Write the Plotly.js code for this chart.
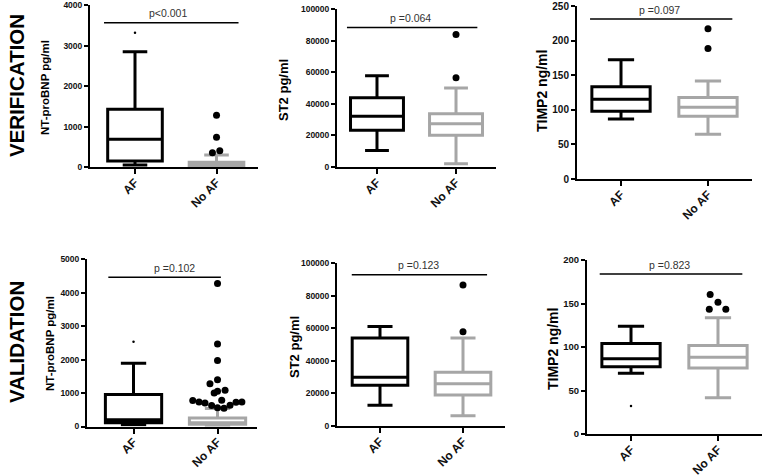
<!DOCTYPE html>
<html>
<head>
<meta charset="utf-8">
<script src="https://cdn.plot.ly/plotly-3.0.1.min.js"></script>
<style>html,body{margin:0;padding:0;background:#fff;}#chart{width:763px;height:476px;}</style>
</head>
<body>
<div id="chart"></div>
<script>
// ---------- DATA ----------
const categories = ['AF', 'No AF'];
const rowLabels = ['VERIFICATION', 'VALIDATION'];
const yTitles = ['NT-proBNP pg/ml', 'ST2 pg/ml', 'TIMP2 ng/ml', 'NT-proBNP pg/ml', 'ST2 pg/ml', 'TIMP2 ng/ml'];
const pValues = ['p<0.001', 'p =0.064', 'p =0.097', 'p =0.102', 'p =0.123', 'p =0.823'];
const yMax = [4000, 100000, 250, 5000, 100000, 200];
const yStep = [1000, 20000, 50, 1000, 20000, 50];

// box stats: [lower whisker, Q1, median, Q3, upper whisker]
const verNtAF = [49, 148, 684, 1425, 2850];
const verNtNoAF = [5, 15, 50, 120, 296];
const verSt2AF = [10381, 23305, 32203, 43856, 57839];
const verSt2NoAF = [2119, 20127, 27330, 33686, 50000];
const verTimpAF = [86.9, 97.9, 115.2, 133.4, 172.3];
const verTimpNoAF = [64.8, 90.7, 103.6, 118, 141.6];
const valNtAF = [55, 110, 200, 955, 1889];
const valNtNoAF = [20, 70, 110, 255, 540];
const valSt2AF = [12679, 24949, 29857, 53988, 61145];
const valSt2NoAF = [6339, 19018, 25971, 32924, 53988];
const valTimpAF = [69.9, 77.2, 86.4, 104, 124];
const valTimpNoAF = [41.8, 76, 88.3, 101.7, 133.6];

// outliers (large dots, No AF) and stray small dots (AF)
const verNtNoAFOut = [1277, 733, 353, 402];
const verNtAFDot = [3316];
const verSt2NoAFOut = [83898, 56568];
const verTimpNoAFOut = [217.4, 188.6];
const valNtNoAFOut = [4270, 2461, 1973, 1399, 1280, 1003, 1050, 1080, 774, 735, 705, 625, 557, 545, 634, 723, 735, 783];
const valNtAFDot = [2530];
const valSt2NoAFOut = [86503, 57873];
const valTimpNoAFOut = [160.5, 151.6, 143.6, 143.6];
const valTimpAFDot = [32.2];

// ---------- LAYOUT HELPERS ----------
const W = 763, H = 476;
const FONT = 'Liberation Sans, Arial, Helvetica, sans-serif';
const BLACK = '#000000', GRAY = '#a6a6a6';

// pixel boxes of each subplot
const panels = [
  {px: [90, 258], py: [5, 167], range: [-0.552, 1.509], tf: 8.5, tt: 11.5, tx: 45, ty: 88, line: [-0.38, 1.27, 0.891], ptx: 0.405},
  {px: [337, 496], py: [9, 167], range: [-0.506, 1.506], tf: 8.5, tt: 13, tx: 283, ty: 90, line: [-0.38, 1.27, 0.884], ptx: 0.418},
  {px: [577, 752], py: [6, 179], range: [-0.506, 1.506], tf: 10, tt: 14, tx: 542, ty: 91, line: [-0.356, 1.28, 0.925], ptx: 0.437},
  {px: [87, 257], py: [259, 426.5], range: [-0.554, 1.470], tf: 8.5, tt: 11.5, tx: 50, ty: 344, line: [-0.30, 1.04, 0.891], ptx: 0.482},
  {px: [337, 505], py: [263, 426], range: [-0.518, 1.506], tf: 8.5, tt: 13, tx: 294, ty: 347, line: [-0.34, 1.29, 0.928], ptx: 0.458},
  {px: [587, 762], py: [260, 434], range: [-0.506, 1.506], tf: 9.5, tt: 14, tx: 553, ty: 349, line: [-0.36, 1.28, 0.92], ptx: 0.437}
];

const boxSets = [
  [verNtAF, verNtNoAF], [verSt2AF, verSt2NoAF], [verTimpAF, verTimpNoAF],
  [valNtAF, valNtNoAF], [valSt2AF, valSt2NoAF], [valTimpAF, valTimpNoAF]
];
const outSets = [verNtNoAFOut, verSt2NoAFOut, verTimpNoAFOut, valNtNoAFOut, valSt2NoAFOut, valTimpNoAFOut];
// horizontal spread of the outlier dots (category units)
const outSpread = [
  [0, 0, -0.05, 0.04],
  [0, 0],
  [0, 0],
  [0, 0, 0, 0, -0.09, -0.04, 0, 0.09, -0.295, -0.22, -0.149, -0.07, 0, 0.077, 0.149, 0.22, 0.29, 0.05],
  [0, 0],
  [-0.09, 0, -0.1, 0.09]
];
const dotSets = [verNtAFDot, null, null, valNtAFDot, null, valTimpAFDot];

const traces = [];
const layout = {
  width: W, height: H,
  margin: {l: 0, r: 0, t: 0, b: 0},
  paper_bgcolor: '#ffffff', plot_bgcolor: 'rgba(0,0,0,0)',
  showlegend: false,
  font: {family: FONT, color: '#000'},
  shapes: [], annotations: []
};

panels.forEach((p, i) => {
  const n = i + 1;
  const xa = 'x' + (n === 1 ? '' : n), ya = 'y' + (n === 1 ? '' : n);
  const xKey = 'xaxis' + (n === 1 ? '' : n), yKey = 'yaxis' + (n === 1 ? '' : n);
  layout[xKey] = {
    domain: [p.px[0] / W, p.px[1] / W], range: p.range, anchor: ya,
    showline: true, linecolor: BLACK, linewidth: 2, mirror: false,
    ticks: 'outside', ticklen: 5, tickwidth: 2, tickcolor: BLACK,
    tickvals: [0, 1], ticktext: categories, tickangle: -45, ticklabelstandoff: -3,
    tickfont: {family: FONT, size: 12, weight: 'bold', color: '#111'},
    showgrid: false, zeroline: false, fixedrange: true
  };
  layout[yKey] = {
    domain: [1 - p.py[1] / H, 1 - p.py[0] / H], range: [0, yMax[i] * 1.0005], anchor: xa,
    showline: true, linecolor: BLACK, linewidth: 2,
    ticks: 'outside', ticklen: 4, tickwidth: 2, tickcolor: BLACK,
    tickmode: 'linear', dtick: yStep[i], tick0: 0, tickformat: 'd',
    tickfont: {family: FONT, size: p.tf, weight: 'bold', color: '#111'},
    showgrid: false, zeroline: false, fixedrange: true
  };
  const colors = [BLACK, GRAY];
  boxSets[i].forEach((s, k) => {
    traces.push({
      type: 'box', xaxis: xa, yaxis: ya,
      x: [k], lowerfence: [s[0]], q1: [s[1]], median: [s[2]], q3: [s[3]], upperfence: [s[4]],
      width: 0.67, whiskerwidth: 0.45, boxpoints: false,
      fillcolor: 'rgba(0,0,0,0)', line: {color: colors[k], width: 3},
      hoverinfo: 'skip', name: categories[k]
    });
  });
  const outs = outSets[i];
  traces.push({
    type: 'scatter', mode: 'markers', xaxis: xa, yaxis: ya,
    x: outs.map((v, j) => 1 + outSpread[i][j]), y: outs,
    marker: {color: BLACK, size: 7}, hoverinfo: 'skip', cliponaxis: false
  });
  if (dotSets[i]) {
    traces.push({
      type: 'scatter', mode: 'markers', xaxis: xa, yaxis: ya,
      x: dotSets[i].map(() => 0), y: dotSets[i],
      marker: {color: BLACK, size: 2.5}, hoverinfo: 'skip'
    });
  }
  // significance bar and p-value
  const ly = p.line[2] * yMax[i];
  layout.shapes.push({type: 'line', xref: xa, yref: ya, x0: p.line[0], x1: p.line[1], y0: ly, y1: ly,
    line: {color: BLACK, width: 1.5}});
  layout.annotations.push({xref: xa, yref: ya, x: p.ptx, y: ly, yshift: 9.5, text: pValues[i],
    showarrow: false, xanchor: 'center', yanchor: 'middle',
    font: {family: FONT, size: 10.5, color: '#333'}});
  // y-axis title
  layout.annotations.push({xref: 'paper', yref: 'paper', x: p.tx / W, y: 1 - p.ty / H, text: yTitles[i],
    textangle: -90, showarrow: false, xanchor: 'center', yanchor: 'middle',
    font: {family: FONT, size: p.tt, weight: 'bold', color: '#000'}});
});

// row labels
[[16, 86], [16, 342]].forEach((pos, r) => {
  layout.annotations.push({xref: 'paper', yref: 'paper', x: pos[0] / W, y: 1 - pos[1] / H, text: rowLabels[r],
    textangle: -90, showarrow: false, xanchor: 'center', yanchor: 'middle',
    font: {family: FONT, size: 20.5, weight: 'bold', color: '#000'}});
});

Plotly.newPlot('chart', traces, layout, {staticPlot: true, displayModeBar: false});
</script>
</body>
</html>
